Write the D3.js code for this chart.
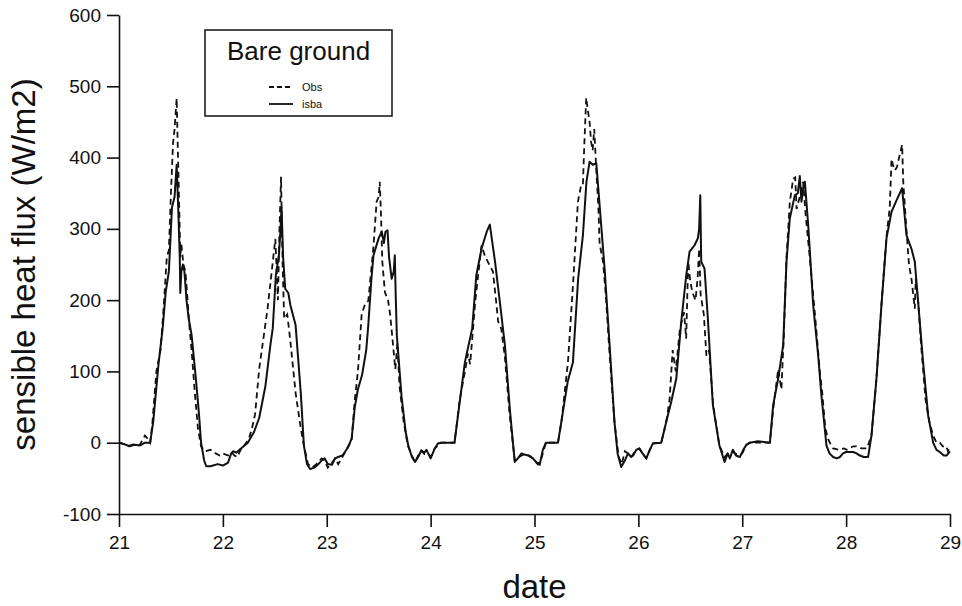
<!DOCTYPE html>
<html>
<head>
<meta charset="utf-8">
<script src="https://cdn.jsdelivr.net/npm/d3@7"></script>
<style>
  body { margin: 0; background: #fff; }
  svg text { font-family: "Liberation Sans", Arial, Helvetica, sans-serif; fill: #111; }
  .axis path, .axis line { stroke: #111; stroke-width: 1.6px; }
  .axis text { font-size: 19px; }
</style>
</head>
<body>
<div id="chartDiv"></div>
<script>
//----------------------------------------------------------------------------------------------------
// values: [day, sensible heat flux W/m2]
var isbaPts = [
  [21.00, 0], [21.05, -2], [21.10, -5], [21.15, -3], [21.20, -4], [21.25, 0], [21.30, 0],
  [21.33, 30], [21.38, 110], [21.42, 160], [21.45, 212], [21.48, 240], [21.51, 330], [21.535, 345],
  [21.555, 390], [21.57, 330], [21.585, 260], [21.59, 210], [21.60, 240], [21.615, 250], [21.63, 240],
  [21.65, 200], [21.67, 175], [21.70, 150], [21.74, 90], [21.77, 40], [21.79, 0], [21.82, -25],
  [21.84, -33], [21.88, -33], [21.95, -30], [22.00, -32], [22.05, -28], [22.08, -15], [22.10, -12],
  [22.13, -14], [22.16, -10], [22.20, -5], [22.24, 0], [22.30, 15], [22.35, 35], [22.41, 80],
  [22.46, 140], [22.48, 160], [22.51, 235], [22.54, 264], [22.555, 300], [22.565, 330], [22.58, 260],
  [22.60, 216], [22.63, 210], [22.65, 193], [22.70, 165], [22.75, 70], [22.78, -4], [22.81, -30],
  [22.84, -37], [22.88, -35], [22.92, -30], [22.95, -25], [22.98, -22], [23.01, -30], [23.05, -31],
  [23.08, -22], [23.11, -20], [23.15, -18], [23.175, -13], [23.21, -5], [23.24, 6], [23.27, 50],
  [23.30, 75], [23.34, 95], [23.38, 130], [23.40, 165], [23.43, 230], [23.45, 263], [23.50, 287],
  [23.53, 296], [23.55, 280], [23.565, 296], [23.585, 298], [23.60, 260], [23.625, 230], [23.645, 240],
  [23.655, 263], [23.665, 200], [23.675, 150], [23.72, 65], [23.76, 15], [23.785, -4], [23.82, -20],
  [23.85, -27], [23.88, -20], [23.91, -11], [23.94, -14], [23.96, -10], [23.98, -16], [24.00, -22],
  [24.02, -15], [24.04, -8], [24.07, -1], [24.10, 0], [24.23, 0], [24.28, 57], [24.33, 113],
  [24.40, 160], [24.44, 235], [24.49, 272], [24.54, 296], [24.57, 306], [24.62, 254], [24.67, 193],
  [24.715, 137], [24.765, 43], [24.81, -27], [24.84, -22], [24.875, -15], [24.91, -17], [24.94, -18],
  [24.985, -22], [25.02, -28], [25.05, -31], [25.08, -10], [25.11, 0], [25.226, 0], [25.258, 29],
  [25.32, 86], [25.37, 113], [25.42, 230], [25.466, 291], [25.50, 366], [25.53, 394], [25.56, 390],
  [25.595, 392], [25.627, 333], [25.675, 244], [25.723, 137], [25.77, 29], [25.80, -15], [25.835, -34],
  [25.87, -25], [25.90, -15], [25.93, -20], [25.95, -18], [25.98, -10], [26.01, -8], [26.04, -15],
  [26.076, -22], [26.11, -10], [26.14, -1], [26.22, 0], [26.268, 29], [26.316, 57], [26.365, 90],
  [26.413, 170], [26.461, 235], [26.493, 268], [26.541, 277], [26.573, 287], [26.585, 300], [26.596, 347],
  [26.605, 254], [26.637, 244], [26.669, 174], [26.717, 53], [26.78, -4], [26.83, -27], [26.86, -15],
  [26.88, -22], [26.91, -10], [26.94, -18], [26.977, -20], [27.01, -10], [27.04, -3], [27.073, 0],
  [27.15, 2], [27.266, 0], [27.298, 53], [27.346, 90], [27.394, 137], [27.426, 254], [27.458, 315],
  [27.506, 347], [27.535, 350], [27.554, 374], [27.57, 338], [27.59, 360], [27.603, 366], [27.635, 305],
  [27.683, 193], [27.731, 122], [27.763, 65], [27.811, -4], [27.84, -15], [27.875, -20], [27.91, -22],
  [27.94, -20], [27.97, -15], [28.00, -13], [28.068, -13], [28.10, -15], [28.132, -18], [28.17, -20],
  [28.212, -20], [28.244, 10], [28.292, 90], [28.34, 193], [28.389, 287], [28.437, 324], [28.485, 340],
  [28.539, 357], [28.581, 291], [28.629, 272], [28.661, 254], [28.693, 198], [28.741, 113], [28.79, 38],
  [28.838, 0], [28.87, -10], [28.902, -13], [28.94, -18], [28.966, -18], [29.00, -12]
];

var obsPts = [
  [21.00, 0], [21.05, -2], [21.10, -4], [21.15, -2], [21.20, -3], [21.25, 10], [21.28, 5], [21.30, 0],
  [21.32, 25], [21.36, 100], [21.40, 130], [21.43, 190], [21.46, 260], [21.48, 270], [21.50, 350],
  [21.52, 420], [21.535, 440], [21.555, 483], [21.565, 420], [21.58, 330], [21.59, 260], [21.60, 279],
  [21.62, 250], [21.64, 240], [21.66, 200], [21.68, 160], [21.70, 128], [21.73, 70], [21.76, 20],
  [21.79, -5], [21.83, -12], [21.88, -10], [21.93, -15], [21.97, -18], [22.00, -15], [22.05, -18],
  [22.09, -14], [22.11, -18], [22.14, -20], [22.17, -10], [22.21, -3], [22.25, 5], [22.28, 20],
  [22.31, 40], [22.35, 104], [22.43, 188], [22.47, 240], [22.505, 286], [22.53, 200], [22.545, 300],
  [22.56, 373], [22.575, 250], [22.59, 174], [22.62, 180], [22.65, 142], [22.70, 70], [22.75, 20],
  [22.78, -4], [22.82, -30], [22.86, -35], [22.90, -30], [22.95, -22], [22.98, -25], [23.01, -35],
  [23.05, -28], [23.08, -22], [23.11, -30], [23.15, -20], [23.19, -10], [23.24, 5], [23.27, 60],
  [23.30, 100], [23.336, 180], [23.37, 195], [23.40, 199], [23.448, 272], [23.48, 338], [23.50, 345],
  [23.51, 366], [23.52, 330], [23.535, 254], [23.56, 211], [23.59, 200], [23.61, 180], [23.63, 150],
  [23.66, 103], [23.68, 140], [23.70, 80], [23.74, 30], [23.78, -4], [23.82, -18], [23.85, -27],
  [23.88, -18], [23.91, -11], [23.94, -16], [23.98, -16], [24.00, -20], [24.04, -8], [24.10, 0],
  [24.23, 0], [24.28, 60], [24.33, 100], [24.36, 125], [24.38, 110], [24.40, 145], [24.43, 199],
  [24.49, 277], [24.52, 263], [24.55, 254], [24.60, 240], [24.63, 199], [24.65, 170], [24.68, 160],
  [24.715, 120], [24.76, 40], [24.81, -25], [24.85, -20], [24.90, -16], [24.95, -18], [24.985, -22],
  [25.03, -30], [25.06, -25], [25.11, 0], [25.226, 0], [25.26, 30], [25.29, 70], [25.322, 113],
  [25.37, 220], [25.418, 338], [25.45, 362], [25.466, 362], [25.48, 420], [25.498, 484], [25.51, 470],
  [25.53, 450], [25.545, 422], [25.56, 410], [25.575, 440], [25.595, 382], [25.615, 330], [25.627, 279],
  [25.66, 254], [25.69, 200], [25.72, 130], [25.77, 29], [25.81, -20], [25.84, -30], [25.87, -12],
  [25.90, -15], [25.93, -20], [25.98, -10], [26.01, -8], [26.04, -15], [26.076, -22], [26.11, -10],
  [26.14, -1], [26.22, 0], [26.268, 29], [26.30, 60], [26.33, 130], [26.36, 100], [26.40, 160],
  [26.44, 183], [26.46, 146], [26.48, 254], [26.50, 226], [26.52, 211], [26.55, 200], [26.57, 230],
  [26.585, 272], [26.60, 207], [26.63, 180], [26.655, 122], [26.68, 130], [26.72, 53], [26.78, -4],
  [26.83, -20], [26.86, -15], [26.90, -12], [26.94, -16], [27.00, -15], [27.04, -3], [27.073, 0],
  [27.266, 0], [27.30, 50], [27.346, 103], [27.377, 75], [27.40, 150], [27.426, 260], [27.458, 338],
  [27.49, 370], [27.51, 372], [27.523, 328], [27.554, 345], [27.587, 366], [27.61, 320], [27.65, 260],
  [27.70, 180], [27.75, 95], [27.77, 70], [27.80, 20], [27.827, 5], [27.85, -2], [27.875, -8],
  [27.93, -10], [27.98, -8], [28.004, -10], [28.068, -5], [28.10, -5], [28.15, -8], [28.20, -8],
  [28.244, 10], [28.292, 90], [28.34, 193], [28.389, 290], [28.42, 330], [28.437, 398], [28.45, 390],
  [28.47, 382], [28.49, 387], [28.51, 400], [28.539, 418], [28.55, 366], [28.58, 300], [28.605, 250],
  [28.629, 230], [28.661, 188], [28.67, 230], [28.693, 200], [28.72, 140], [28.765, 60], [28.80, 30],
  [28.838, 10], [28.87, 0], [28.902, 0], [28.93, -5], [28.966, -5], [28.98, -12], [29.00, -5]
];

var xTicks = [21, 22, 23, 24, 25, 26, 27, 28, 29];
var yTicks = [-100, 0, 100, 200, 300, 400, 500, 600];
var legendNames = ["Obs", "isba"];

//----------------------------------------------------------------------------------------------------
var svgWidth = 962, svgHeight = 606;
var plotLeft = 119, plotRight = 950, plotTop = 15, plotBottom = 514;

var svg = d3.select("#chartDiv").append("svg")
    .attr("width", svgWidth)
    .attr("height", svgHeight);

var xScale = d3.scaleLinear().domain([21, 29]).range([plotLeft, plotRight]);
var yScale = d3.scaleLinear().domain([-100, 600]).range([plotBottom, plotTop]);

  // plain hyphen for negatives, as in the original figure
var plainFormat = function(d){ return String(d); };

var xAxis = d3.axisBottom(xScale).tickValues(xTicks).tickFormat(plainFormat)
              .tickSize(13).tickSizeOuter(0).tickPadding(9);
var yAxis = d3.axisLeft(yScale).tickValues(yTicks).tickFormat(plainFormat)
              .tickSize(12).tickSizeOuter(0).tickPadding(6);

svg.append("g")
   .attr("class", "axis")
   .attr("transform", "translate(0," + plotBottom + ")")
   .call(xAxis);

svg.append("g")
   .attr("class", "axis")
   .attr("transform", "translate(" + plotLeft + ",0)")
   .call(yAxis);

svg.selectAll(".axis text").attr("fill", "#111");

  // the two series
var line = d3.line()
    .x(function(d){ return xScale(d[0]); })
    .y(function(d){ return yScale(d[1]); });

svg.append("path")
   .datum(isbaPts)
   .attr("d", line)
   .attr("fill", "none")
   .attr("stroke", "#111")
   .attr("stroke-width", 2)
   .attr("stroke-linejoin", "round");

svg.append("path")
   .datum(obsPts)
   .attr("d", line)
   .attr("fill", "none")
   .attr("stroke", "#111")
   .attr("stroke-width", 1.8)
   .attr("stroke-dasharray", "6,4");

  // axis titles
svg.append("text")
   .attr("transform", "translate(35," + ((plotTop + plotBottom) / 2) + ") rotate(-90)")
   .attr("text-anchor", "middle")
   .style("font-size", "33px")
   .text("sensible heat flux (W/m2)");

svg.append("text")
   .attr("x", (plotLeft + plotRight) / 2)
   .attr("y", 598)
   .attr("text-anchor", "middle")
   .style("font-size", "33px")
   .text("date");

  // legend
var legend = svg.append("g");
legend.append("rect")
   .attr("x", 205).attr("y", 30)
   .attr("width", 187).attr("height", 86)
   .attr("fill", "#fff")
   .attr("stroke", "#111")
   .attr("stroke-width", 1.5);

legend.append("text")
   .attr("x", 227).attr("y", 60)
   .style("font-size", "26px")
   .text("Bare ground");

legendNames.forEach(function(name, i){
   var ly = 87 + i * 17;
   legend.append("line")
      .attr("x1", 269).attr("x2", 293)
      .attr("y1", ly).attr("y2", ly)
      .attr("stroke", "#111")
      .attr("stroke-width", 1.8)
      .attr("stroke-dasharray", i == 0 ? "5,3" : null);
   legend.append("text")
      .attr("x", 302).attr("y", ly + 4)
      .style("font-size", "11px")
      .text(name);
   });
</script>
</body>
</html>
